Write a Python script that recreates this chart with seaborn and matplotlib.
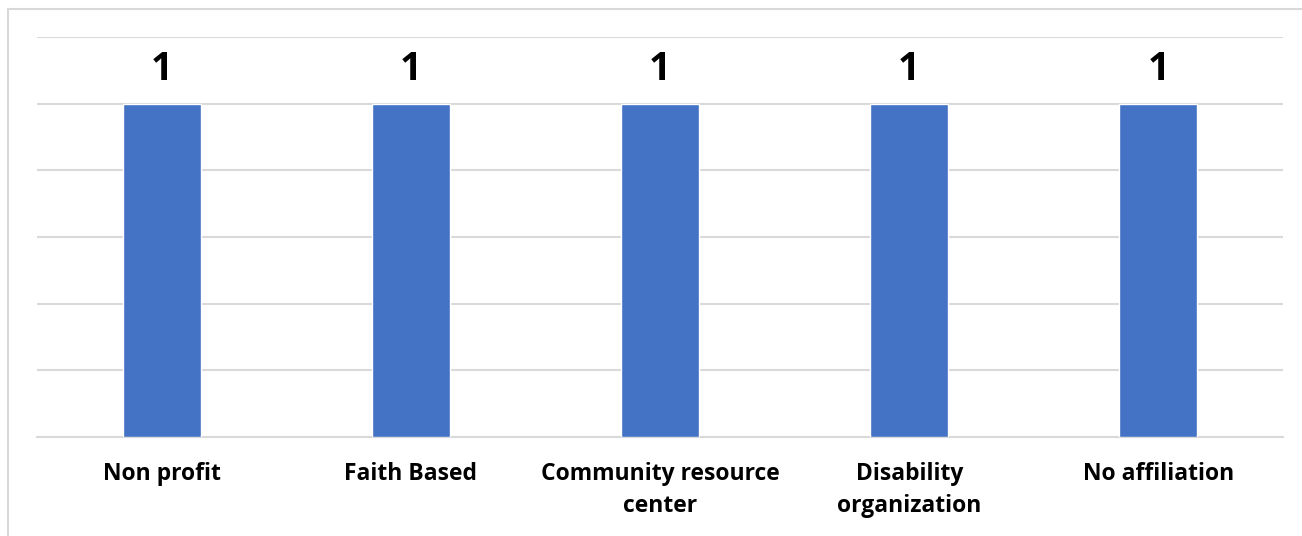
import matplotlib
matplotlib.use("Agg")
import matplotlib.pyplot as plt
import seaborn as sns
import pandas as pd
from matplotlib.patches import Rectangle

# Chart data
categories = ["Non profit", "Faith Based", "Community resource\ncenter",
              "Disability\norganization", "No affiliation"]
counts = [1, 1, 1, 1, 1]
y_ticks = [0, 0.2, 0.4, 0.6, 0.8, 1.0, 1.2]

df = pd.DataFrame({"category": categories, "count": counts})

sns.set_theme(style="white")
plt.rcParams["font.family"] = ["Open Sans", "DejaVu Sans"]

fig = plt.figure(figsize=(13.02, 5.36), dpi=100)
ax = fig.add_axes([37 / 1302, 1 - 437 / 536, (1283 - 37) / 1302, (437 - 37) / 536])

sns.barplot(data=df, x="category", y="count", color="#4472C4", width=0.313,
            saturation=1, ax=ax, zorder=3)

ax.set_ylim(0, 1.2)
ax.set_yticks(y_ticks)
ax.yaxis.grid(True, color="#d9d9d9", linewidth=1.5, zorder=0)
ax.set_axisbelow(True)
ax.tick_params(axis="y", left=False, labelleft=False)
ax.tick_params(axis="x", bottom=False, pad=12)
for s in ["left", "right", "top"]:
    ax.spines[s].set_visible(False)
ax.spines["bottom"].set_color("#d9d9d9")
ax.spines["bottom"].set_linewidth(1.5)
ax.set_xlabel("")
ax.set_ylabel("")

for lbl in ax.get_xticklabels():
    lbl.set_fontsize(16.5)
    lbl.set_fontweight("bold")
    lbl.set_color("black")
    lbl.set_linespacing(1.42)
    lbl.set_verticalalignment("top")

# Value labels above each bar
for i, v in enumerate(counts):
    ax.text(i, v + 0.045, f"{v}", ha="center", va="bottom",
            fontsize=28, fontweight="bold", color="black")

# Outer chart frame
fig.patches.append(Rectangle((7.5 / 1302, -0.05), 1.1, 1 - 8.5 / 536 + 0.05,
                             transform=fig.transFigure, fill=False,
                             edgecolor="#d9d9d9", linewidth=1.5))

fig.savefig("out.png", dpi=100, facecolor="white")
